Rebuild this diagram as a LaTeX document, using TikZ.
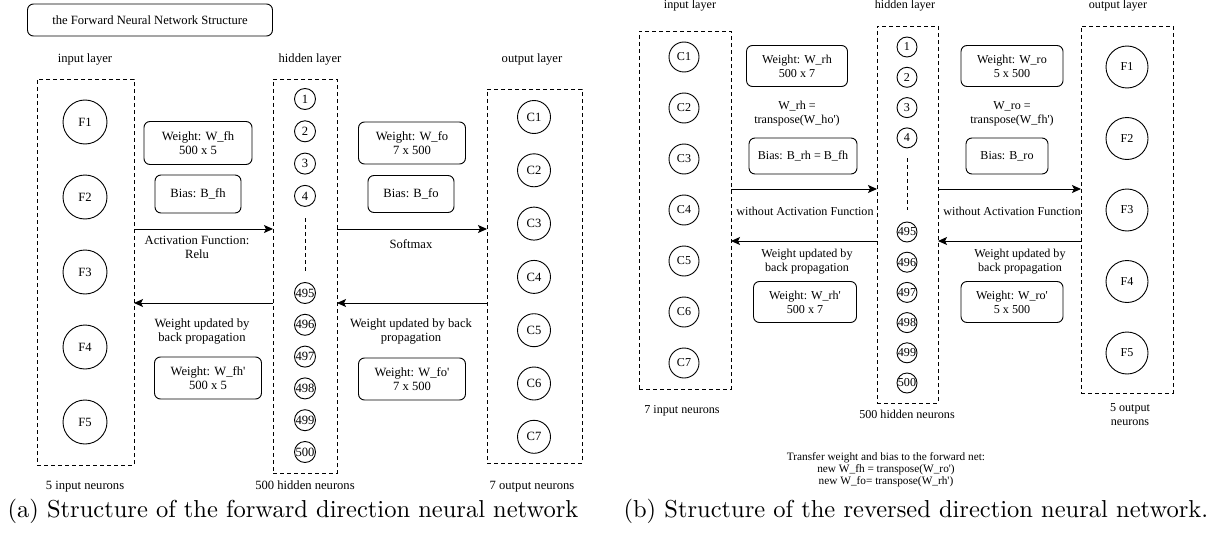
\documentclass[tikz,border=0pt]{standalone}
\usepackage{fontspec}
\newfontfamily\dgfont{Liberation Serif}
\newfontfamily\capfont{lmroman10-regular}[Extension=.otf]
\usetikzlibrary{arrows.meta}
\newcommand\ap{\textquotesingle}

\begin{document}
\begin{tikzpicture}[x=1pt,y=-1pt,
    every node/.style={font=\dgfont\fontsize{12.6}{14}\selectfont},
    lbl/.style={anchor=base,align=center},
    dotline/.style={dash pattern=on 4pt off 3pt,line width=0.9pt},
    layerbox/.style={draw,dotline,inner sep=0,outer sep=0},
    neuron/.style={draw,circle,line width=0.9pt,inner sep=0,minimum size=#1},
    infobox/.style={draw,rounded corners=6pt,line width=0.9pt,align=center,inner sep=0},
    flow/.style={-{Stealth[length=9pt,width=8pt,inset=2pt]},line width=0.9pt},
    caption/.style={anchor=base west,font=\capfont\fontsize{24.5}{28}\selectfont}]
  \useasboundingbox (0,0) rectangle (1210,535);

  % (a) forward net
  \node[infobox,minimum width=245,minimum height=32] (title) at (150,20) {the Forward Neural Network Structure};
  \node[lbl] (inlbl) at (85,63) {input layer};
  \node[lbl] (hidlbl) at (310,63) {hidden layer};
  \node[lbl] (outlbl) at (532,63) {output layer};

  \node[layerbox,minimum width=97,minimum height=386] (ibox) at (85.5,272) {};
  \foreach \i in {1,...,5}
    \node[neuron=44pt] (F\i) at (85,{122+75*(\i-1)}) {F\i};
  \node[layerbox,minimum width=64,minimum height=394] (hbox) at (305,276) {};
  \foreach \i in {1,...,4}
    \node[neuron=21pt] (h\i) at (305,{99+32.3*(\i-1)}) {\i};
  \foreach \n [count=\k from 0] in {495,...,500}
    \node[neuron=21pt] (h\n) at (305,{293+31.8*\k}) {\n};
  \draw[dotline] ([yshift=-11.5pt]h4.south) -- ([yshift=10.5pt]h495.north);
  \node[layerbox,minimum width=95,minimum height=374] (obox) at (534.5,276) {};
  \foreach \i in {1,...,7}
    \node[neuron=33pt] (C\i) at (534,{117+53.3*(\i-1)}) {C\i};

  \node[lbl] (inum) at (85,489) {5 input neurons};
  \node[lbl] (hnum) at (305,489) {500 hidden neurons};
  \node[lbl] (onum) at (532,489) {7 output neurons};

  \node[infobox,minimum width=108,minimum height=43] (wfh) at (198,143) {Weight: W\_fh\\500 x 5};
  \node[infobox,minimum width=86,minimum height=38] (bfh) at (198,194) {Bias: B\_fh};
  \node[align=center] (act) at (197,247) {Activation Function:\\Relu};
  \node[align=center] (upd1) at (202,331) {Weight updated by\\back propagation};
  \node[infobox,minimum width=107,minimum height=42] (wfhn) at (208,378) {Weight: W\_fh\ap\\500 x 5};
  \node[infobox,minimum width=107,minimum height=42] (wfo) at (412,143) {Weight: W\_fo\\7 x 500};
  \node[infobox,minimum width=86,minimum height=37] (bfo) at (411,194) {Bias: B\_fo};
  \node (soft) at (411,244) {Softmax};
  \node[align=center] (upd2) at (411,331) {Weight updated by back\\propagation};
  \node[infobox,minimum width=107,minimum height=42] (wfon) at (412,379) {Weight: W\_fo\ap\\7 x 500};

  \coordinate (fa) at (0,229);
  \coordinate (ba) at (0,303);
  \draw[flow] (ibox.east |- fa) -- (hbox.west |- fa);
  \draw[flow] (hbox.west |- ba) -- (ibox.east |- ba);
  \draw[flow] (hbox.east |- fa) -- (obox.west |- fa);
  \draw[flow] (obox.west |- ba) -- (hbox.east |- ba);

  % (b) reversed net
  \begin{scope}[every node/.style={font=\dgfont\fontsize{12.1}{14}\selectfont}]
  \node[lbl] (rinlbl) at (690,9) {input layer};
  \node[lbl] (rhidlbl) at (905,9) {hidden layer};
  \node[lbl] (routlbl) at (1118,9) {output layer};

  \node[layerbox,minimum width=92,minimum height=358] (ribox) at (685,210) {};
  \foreach \i in {1,...,7}
    \node[neuron=30pt] (rC\i) at (684,{57+51*(\i-1)}) {C\i};
  \node[layerbox,minimum width=61,minimum height=377] (rhbox) at (907.5,214.5) {};
  \foreach \i in {1,...,4}
    \node[neuron=20pt] (rh\i) at (907,{47+30.3*(\i-1)}) {\i};
  \foreach \n [count=\k from 0] in {495,...,500}
    \node[neuron=20pt] (rh\n) at (907,{232+30.2*\k}) {\n};
  \draw[dotline] ([yshift=-10pt]rh4.south) -- ([yshift=12pt]rh495.north);
  \node[layerbox,minimum width=92,minimum height=367] (robox) at (1127,209.5) {};
  \foreach \i in {1,...,5}
    \node[neuron=42pt] (rF\i) at (1127,{67+71.5*(\i-1)}) {F\i};

  \node[lbl] (rinum) at (682,413) {7 input neurons};
  \node[lbl] (rhnum) at (907,418) {500 hidden neurons};
  \node[align=center] (ronum) at (1130,415) {5 output\\neurons};

  \node[infobox,minimum width=101,minimum height=41] (wrh) at (797,66) {Weight: W\_rh\\500 x 7};
  \node[align=center] (trh) at (797,114) {W\_rh =\\transpose(W\_ho\ap)};
  \node[infobox,minimum width=108,minimum height=36] (brh) at (803,156) {Bias: B\_rh = B\_fh};
  \node (noact1) at (805,211) {without Activation Function};
  \node[align=center] (upd3) at (807,262) {Weight updated by\\back propagation};
  \node[infobox,minimum width=103,minimum height=41] (wrhn) at (805,302) {Weight: W\_rh\ap\\500 x 7};
  \node[infobox,minimum width=102,minimum height=41] (wro) at (1012,66) {Weight: W\_ro\\5 x 500};
  \node[align=center] (tro) at (1012,114) {W\_ro =\\transpose(W\_fh\ap)};
  \node[infobox,minimum width=82,minimum height=36] (bro) at (1007,156) {Bias: B\_ro};
  \node (noact2) at (1012,211) {without Activation Function};
  \node[align=center] (upd4) at (1020,262) {Weight updated by\\back propagation};
  \node[infobox,minimum width=102,minimum height=41] (wron) at (1012,302) {Weight: W\_ro\ap\\5 x 500};
  \end{scope}

  \coordinate (rfa) at (0,189);
  \coordinate (rba) at (0,241);
  \draw[flow] (ribox.east |- rfa) -- (rhbox.west |- rfa);
  \draw[flow] (rhbox.west |- rba) -- (ribox.east |- rba);
  \draw[flow] (rhbox.east |- rfa) -- (robox.west |- rfa);
  \draw[flow] (robox.west |- rba) -- (rhbox.east |- rba);

  \node[align=center,font=\dgfont\fontsize{11.3}{11.8}\selectfont] (xfer) at (886,470)
    {Transfer weight and bias to the forward net:\\new W\_fh = transpose(W\_ro\ap)\\new W\_fo= transpose(W\_rh\ap)};

  % captions
  \node[caption] (capa) at (4,517) {(a) Structure of the forward direction neural network};
  \node[caption] (capb) at (620,517) {(b) Structure of the reversed direction neural network.};
\end{tikzpicture}
\end{document}
